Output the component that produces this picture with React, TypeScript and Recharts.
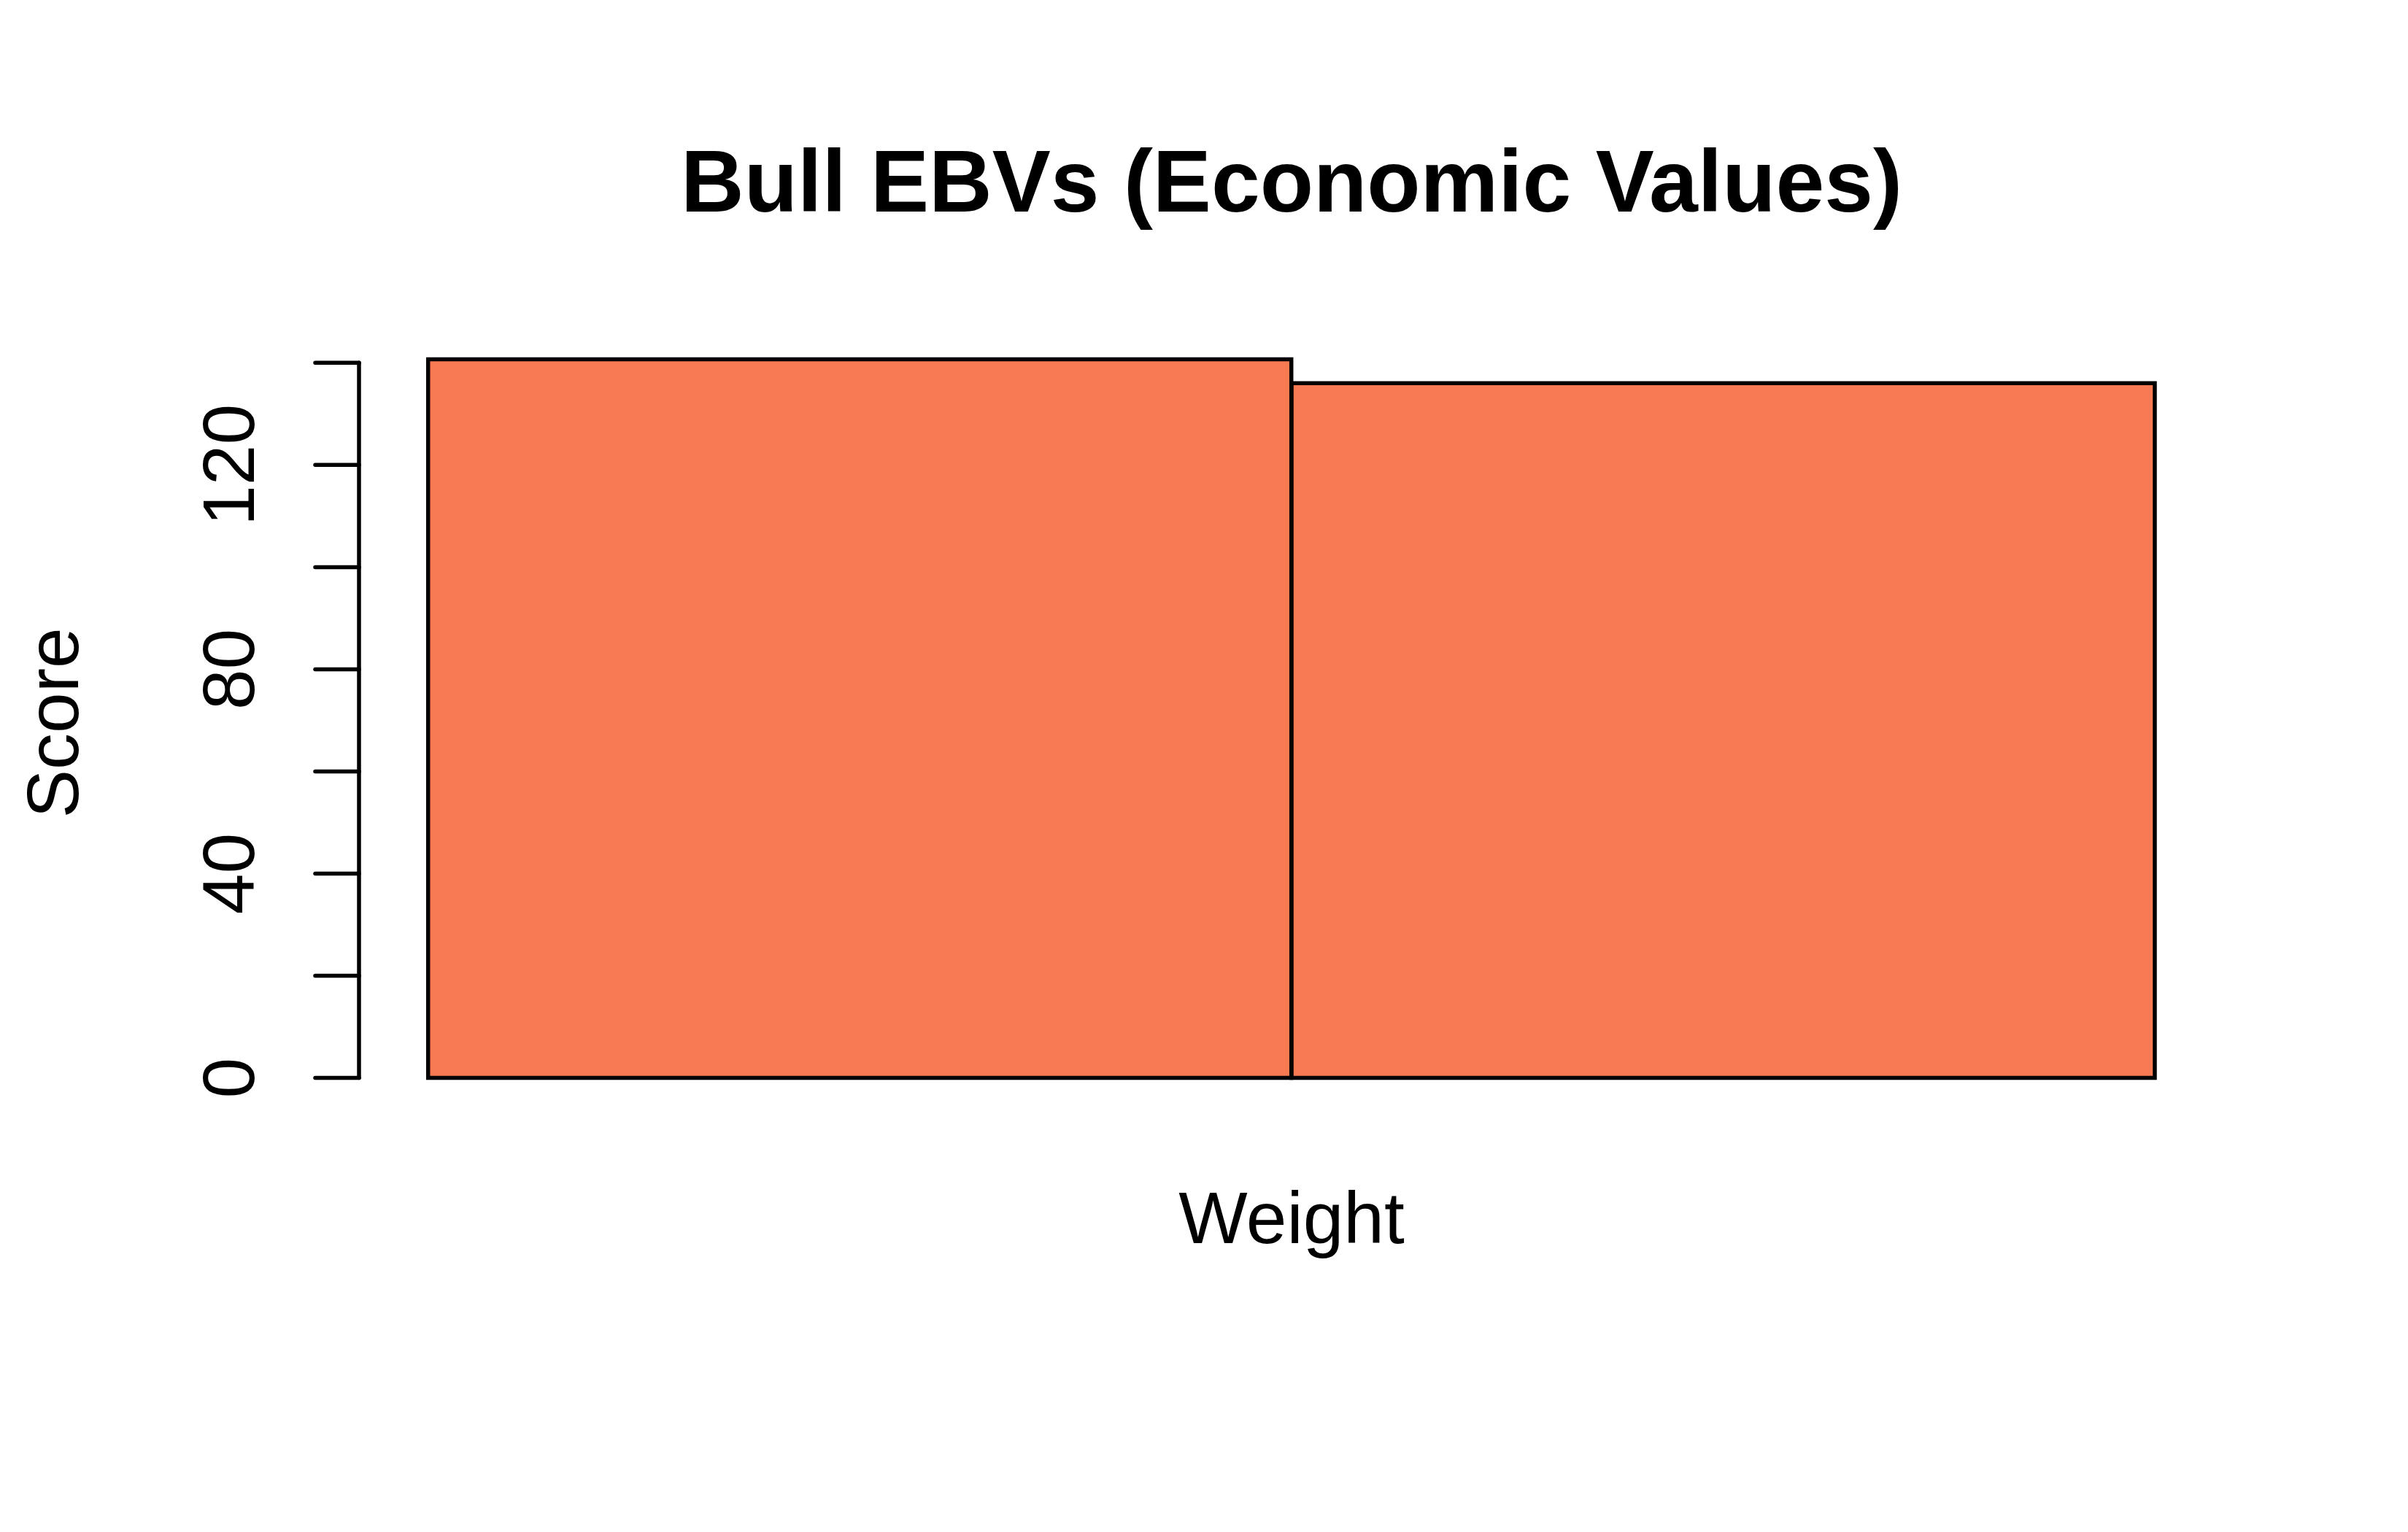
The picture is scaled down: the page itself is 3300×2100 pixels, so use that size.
import React from 'react';
import { BarChart, Bar, XAxis, YAxis, ReferenceLine } from 'recharts';

// ---- data ----
const bulls = ['Bull A', 'Bull B'];
const weightScores = [140.7, 136.0];
const yTicks = [0, 20, 40, 60, 80, 100, 120, 140];
const yTickLabels = ['0', '', '40', '', '80', '', '120', ''];
const yDomain = [-5.63, 146.33];
const axisLineSpan = [0, 140];
const title = 'Bull EBVs (Economic Values)';
const xLabel = 'Weight';
const yLabel = 'Score';

const data = bulls.map((b, i) => ({ name: b, score: weightScores[i] }));

const FONT = '"Liberation Sans", Arial, Helvetica, sans-serif';
const BAR_FILL = '#F87A53';
const LW = 5.5;

const YTick = (props: any) => {
  const { x, y, payload } = props;
  const idx = yTicks.indexOf(payload.value);
  const label = idx >= 0 ? yTickLabels[idx] : '';
  if (!label) return <g />;
  return (
    <text
      x={x}
      y={y}
      transform={`rotate(-90, ${x}, ${y})`}
      textAnchor="middle"
      fontFamily={FONT}
      fontSize={100}
      fill="#000"
    >
      {label}
    </text>
  );
};

export default function App() {
  return (
    <div style={{ position: 'absolute', left: 0, top: 0, width: 3300, height: 2100, background: '#fff' }}>
      <BarChart
        width={3300}
        height={2100}
        data={data}
        margin={{ top: 453, right: 252, bottom: 583, left: 0 }}
        barCategoryGap={0}
        barGap={0}
      >
        <XAxis xAxisId="cat" dataKey="name" type="category" hide padding={{ left: 94.7, right: 94.7 }} />
        <XAxis xAxisId="num" type="number" domain={[0, 1]} hide />
        <YAxis
          type="number"
          domain={yDomain}
          ticks={yTicks}
          interval={0}
          width={492}
          axisLine={false}
          tickLine={{ stroke: '#000', strokeWidth: LW, strokeLinecap: 'round' }}
          tickSize={60}
          tickMargin={84}
          tick={<YTick />}
        />
        <Bar
          xAxisId="cat"
          dataKey="score"
          fill={BAR_FILL}
          stroke="#000"
          strokeWidth={LW}
          isAnimationActive={false}
        />
        <ReferenceLine
          xAxisId="num"
          segment={[
            { x: 0, y: axisLineSpan[0] },
            { x: 0, y: axisLineSpan[1] },
          ]}
          stroke="#000"
          strokeWidth={LW}
          strokeLinecap="round"
          ifOverflow="visible"
        />
      </BarChart>
      <svg
        width={3300}
        height={2100}
        style={{ position: 'absolute', left: 0, top: 0, pointerEvents: 'none' }}
      >
        <text x={1770} y={290} textAnchor="middle" fontFamily={FONT} fontWeight="bold" fontSize={120} fill="#000">
          {title}
        </text>
        <text x={1770} y={1704} textAnchor="middle" fontFamily={FONT} fontSize={100} fill="#000">
          {xLabel}
        </text>
        <text
          x={107}
          y={991}
          transform="rotate(-90, 107, 991)"
          textAnchor="middle"
          fontFamily={FONT}
          fontSize={100}
          fill="#000"
        >
          {yLabel}
        </text>
      </svg>
    </div>
  );
}
